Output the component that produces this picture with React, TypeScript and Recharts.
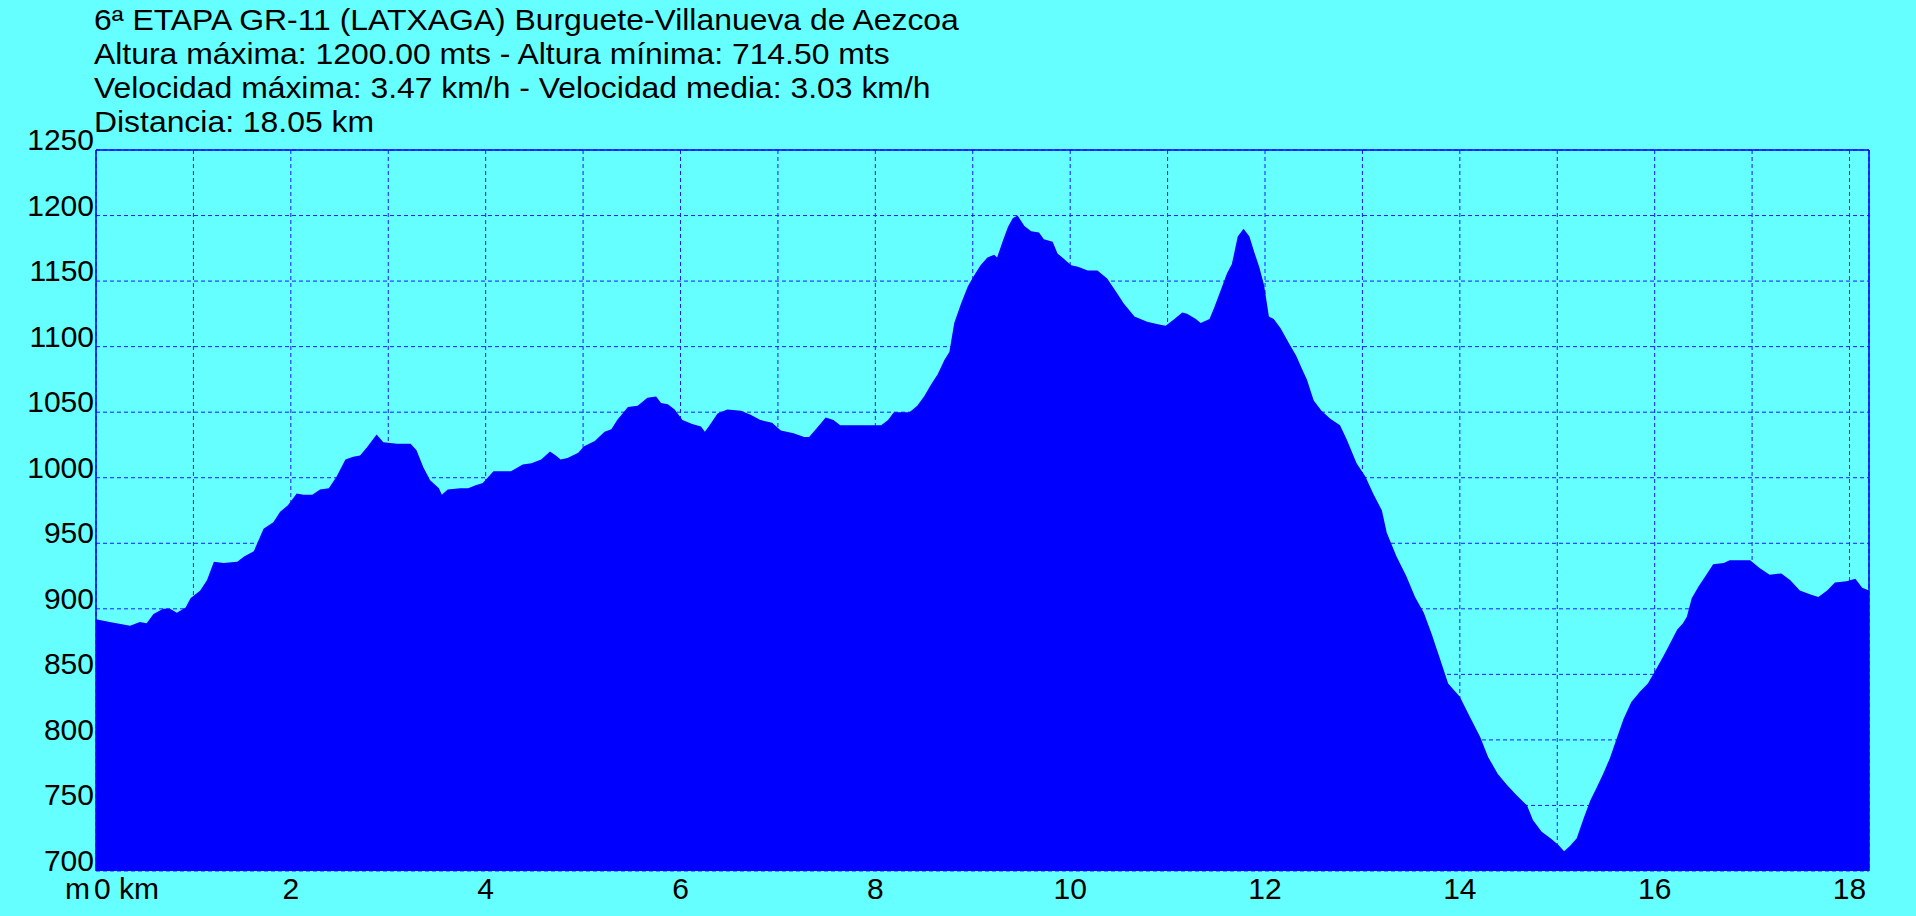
import { AreaChart, Area, XAxis, YAxis, CartesianGrid, ReferenceLine } from "recharts";

const titleLines = [
  "6ª ETAPA GR-11 (LATXAGA) Burguete-Villanueva de Aezcoa",
  "Altura máxima: 1200.00 mts - Altura mínima: 714.50 mts",
  "Velocidad máxima: 3.47 km/h - Velocidad media: 3.03 km/h",
  "Distancia: 18.05 km",
];

const distanceKm = [
  0, 0.14, 0.35, 0.45, 0.52, 0.59, 0.69, 0.76, 0.83, 0.92, 0.97, 1.07, 1.14, 1.21, 1.31, 1.45, 1.52, 1.62, 1.72, 1.82,
  1.89, 1.97, 2.06, 2.13, 2.22, 2.3, 2.39, 2.47, 2.56, 2.64, 2.71, 2.78, 2.88, 2.95, 3.09, 3.23, 3.29, 3.36, 3.43, 3.52,
  3.55, 3.61, 3.74, 3.82, 3.89, 3.97, 4.08, 4.19, 4.26, 4.38, 4.47, 4.57, 4.66, 4.72, 4.77, 4.84, 4.95, 5.01, 5.12, 5.22,
  5.29, 5.35, 5.46, 5.56, 5.66, 5.75, 5.8, 5.87, 5.94, 6.02, 6.12, 6.21, 6.25, 6.29, 6.38, 6.48, 6.62, 6.72, 6.82, 6.94,
  7.03, 7.16, 7.27, 7.32, 7.4, 7.49, 7.57, 7.64, 7.78, 7.91, 8.06, 8.13, 8.19, 8.35, 8.43, 8.5, 8.57, 8.64, 8.71, 8.76,
  8.81, 8.88, 8.95, 9.02, 9.08, 9.15, 9.22, 9.25, 9.31, 9.36, 9.41, 9.46, 9.53, 9.6, 9.68, 9.73, 9.82, 9.87, 9.92, 10.01,
  10.08, 10.18, 10.28, 10.38, 10.48, 10.55, 10.66, 10.79, 10.9, 10.98, 11.07, 11.15, 11.2, 11.29, 11.34, 11.43, 11.48,
  11.55, 11.61, 11.66, 11.72, 11.78, 11.84, 11.89, 11.94, 11.99, 12.04, 12.09, 12.16, 12.25, 12.32, 12.38, 12.43, 12.5,
  12.58, 12.67, 12.77, 12.84, 12.94, 13.03, 13.11, 13.2, 13.25, 13.35, 13.45, 13.54, 13.63, 13.71, 13.8, 13.88, 14.0,
  14.1, 14.21, 14.29, 14.39, 14.48, 14.58, 14.69, 14.75, 14.84, 14.93, 15.01, 15.07, 15.13, 15.2, 15.27, 15.34, 15.4,
  15.47, 15.54, 15.61, 15.68, 15.76, 15.85, 15.93, 16.0, 16.09, 16.16, 16.23, 16.29, 16.33, 16.38, 16.45, 16.53, 16.6,
  16.71, 16.77, 16.88, 16.98, 17.08, 17.18, 17.3, 17.39, 17.49, 17.6, 17.68, 17.77, 17.85, 17.97, 18.06, 18.13, 18.2,
];

const elevationM = [
  892, 890, 887, 890, 889, 896, 900, 900, 897, 901, 908, 914, 922, 936, 935, 936, 940, 944, 961, 966,
  974, 979, 988, 987, 987, 991, 992, 1001, 1014, 1016, 1017, 1023, 1033, 1027, 1026, 1026, 1021, 1008, 998, 992,
  987, 991, 992, 992, 994, 996, 1005, 1005, 1005, 1010, 1011, 1014, 1020, 1017, 1014, 1015, 1019, 1024, 1028, 1035,
  1037, 1044, 1054, 1055, 1061, 1062, 1057, 1056, 1052, 1044, 1041, 1039, 1035, 1039, 1049, 1052, 1051, 1048, 1044, 1042,
  1036, 1034, 1031, 1031, 1038, 1046, 1044, 1040, 1040, 1040, 1040, 1044, 1050, 1050, 1055, 1062, 1071, 1079, 1090, 1096,
  1118, 1133, 1146, 1155, 1162, 1168, 1170, 1168, 1181, 1191, 1198, 1200, 1192, 1188, 1187, 1182, 1180, 1171, 1168, 1162,
  1161, 1158, 1158, 1152, 1141, 1133, 1123, 1119, 1117, 1116, 1121, 1126, 1125, 1121, 1118, 1121, 1130,
  1144, 1156, 1163, 1184, 1190, 1184, 1172, 1161, 1147, 1123, 1121, 1114, 1102, 1093, 1083, 1075, 1059,
  1051, 1045, 1040, 1029, 1011, 1001, 988, 975, 958, 940, 925, 909, 897, 881, 861, 843, 833,
  818, 802, 787, 774, 766, 758, 750, 739, 730, 725, 720, 715, 719, 725, 740, 754, 763,
  774, 786, 801, 816, 829, 837, 843, 852, 864, 874, 884, 889, 894, 908, 917, 926, 934,
  935, 937, 937, 937, 931, 926, 927, 922, 914, 911, 909, 914, 920, 921, 923, 916, 914,
];

const yTicks = [700, 750, 800, 850, 900, 950, 1000, 1050, 1100, 1150, 1200, 1250];
const xTicks = [0, 1, 2, 3, 4, 5, 6, 7, 8, 9, 10, 11, 12, 13, 14, 15, 16, 17, 18];

const FONT = "'Liberation Sans', Arial, sans-serif";

function XTick(props: any) {
  const { x, y, payload } = props;
  const v = payload.value;
  if (v % 2 !== 0) return <g />;
  if (v === 0) {
    return (
      <g>
        <text x={x - 6} y={y + 28} textAnchor="end" fontSize={30} fontFamily={FONT} fill="#000">m</text>
        <text x={x - 2} y={y + 28} textAnchor="start" fontSize={30} fontFamily={FONT} fill="#000">0 km</text>
      </g>
    );
  }
  return (
    <text x={x} y={y + 28} textAnchor="middle" fontSize={30} fontFamily={FONT} fill="#000">{v}</text>
  );
}

function YTick(props: any) {
  const { x, y, payload } = props;
  return (
    <text x={x} y={y} textAnchor="end" fontSize={30} fontFamily={FONT} fill="#000">{payload.value}</text>
  );
}

export default function App() {
  const data = distanceKm.map((km, i) => ({ km, alt: elevationM[i] }));

  return (
    <div style={{ position: "absolute", left: 0, top: 0, width: 1916, height: 916, background: "#66ffff", overflow: "hidden" }}>
      <AreaChart width={1916} height={916} data={data} margin={{ top: 150, right: 47, bottom: 0, left: 0 }}>
        <CartesianGrid stroke="#1a1aff" strokeDasharray="4 3" />
        <XAxis
          dataKey="km"
          type="number"
          domain={[0, 18.2]}
          ticks={xTicks}
          interval={0}
          height={45}
          axisLine={false}
          tickLine={false}
          tickSize={0}
          tickMargin={0}
          tick={(p: any) => <XTick {...p} />}
        />
        <YAxis
          type="number"
          domain={[700, 1250]}
          ticks={yTicks}
          interval={0}
          width={96}
          axisLine={false}
          tickLine={false}
          tickSize={0}
          tickMargin={2}
          tick={(p: any) => <YTick {...p} />}
        />
        <Area
          dataKey="alt"
          type="linear"
          stroke="none"
          fill="#0000ff"
          fillOpacity={1}
          baseValue="dataMin"
          isAnimationActive={false}
          dot={false}
          activeDot={false}
        />
        <ReferenceLine y={1250} stroke="#0000ff" strokeWidth={1.5} />
        <ReferenceLine x={0} stroke="#0000ff" strokeWidth={1.5} />
        <ReferenceLine x={18.2} stroke="#0000ff" strokeWidth={1.5} />
      </AreaChart>
      <svg width={1916} height={916} style={{ position: "absolute", left: 0, top: 0, pointerEvents: "none" }}>
        {titleLines.map((line, i) => (
          <text
            key={i}
            transform={`translate(94, ${29.5 + i * 34}) scale(1.1 1)`}
            fontSize={29}
            fontFamily={FONT}
            fill="#000"
          >
            {line}
          </text>
        ))}
      </svg>
    </div>
  );
}
